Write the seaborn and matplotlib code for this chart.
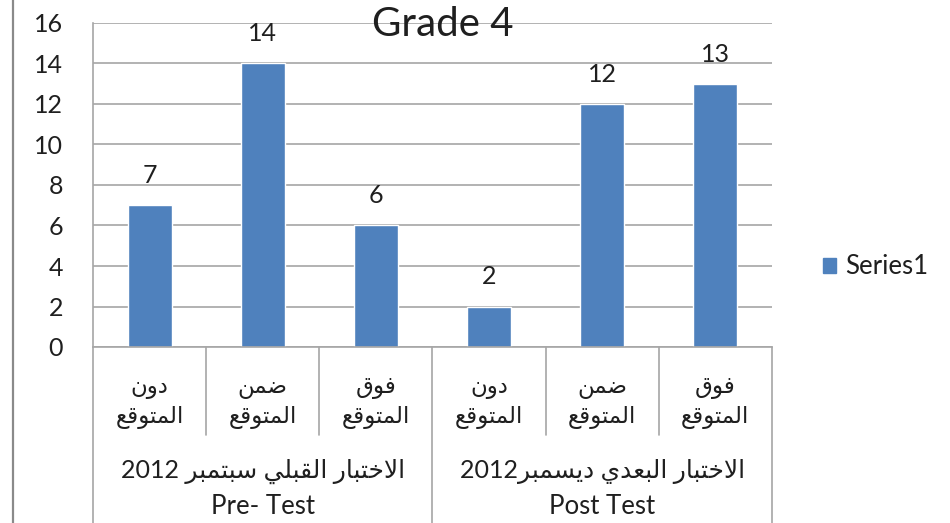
import matplotlib
matplotlib.use("Agg")
import matplotlib.pyplot as plt
import matplotlib.transforms as mtransforms
from matplotlib.lines import Line2D
from matplotlib.patches import Patch
import seaborn as sns
import pandas as pd

# Arabic words written in presentation forms, in visual (left-to-right) order,
# because matplotlib does no Arabic shaping / bidi reordering.
W_BELOW = "\uFEE5\uFEED\uFEA9"                                   # دون
W_WITHIN = "\uFEE6\uFEE4\uFEBF"                                  # ضمن
W_ABOVE = "\uFED5\uFEEE\uFED3"                                   # فوق
W_EXPECTED = "\uFECA\uFED7\uFEEE\uFE98\uFEE4\uFEDF\uFE8D"        # المتوقع
W_TEST = "\uFEAD\uFE8E\uFE92\uFE98\uFEA7\uFEFB\uFE8D"            # الاختبار
W_PRE = "\uFEF2\uFEE0\uFE92\uFED8\uFEDF\uFE8D"                   # القبلي
W_SEPT = "\uFEAE\uFE92\uFEE4\uFE98\uFE92\uFEB3"                  # سبتمبر
W_POST = "\uFEF1\uFEAA\uFECC\uFE92\uFEDF\uFE8D"                  # البعدي
W_DEC = "\uFEAE\uFE92\uFEE4\uFEB4\uFEF3\uFEA9"                   # ديسمبر

# ---- data ----
category_keys = ["pre_below", "pre_within", "pre_above",
                 "post_below", "post_within", "post_above"]
sub_labels = [W_BELOW + "\n" + W_EXPECTED, W_WITHIN + "\n" + W_EXPECTED, W_ABOVE + "\n" + W_EXPECTED,
              W_BELOW + "\n" + W_EXPECTED, W_WITHIN + "\n" + W_EXPECTED, W_ABOVE + "\n" + W_EXPECTED]
group_arabic = ["2012 " + W_SEPT + " " + W_PRE + " " + W_TEST,   # الاختبار القبلي سبتمبر 2012
                "2012" + W_DEC + " " + W_POST + " " + W_TEST]    # الاختبار البعدي ديسمبر2012
group_english = ["Pre- Test", "Post Test"]
values = [7, 14, 6, 2, 12, 13]
series_name = "Series1"
title = "Grade 4"

df = pd.DataFrame({"key": category_keys, "value": values,
                   "series": [series_name] * len(values)})

sns.set_theme(style="white")
plt.rcParams["font.family"] = ["Lato", "DejaVu Sans"]

BAR = "#4F81BD"
GRID = "#A6A6A6"
TXT = "#1f1f1f"

fig = plt.figure(figsize=(9.5, 5.23), dpi=100)
ax = fig.add_axes([93 / 950, 1 - 347 / 523, (772 - 93) / 950, (347 - 23) / 523])

sns.barplot(data=df, x="key", y="value", hue="series", order=category_keys,
            palette=[BAR], saturation=1, width=0.39, ax=ax, legend=False)

ax.set_xlim(-0.5, 5.5)
ax.set_ylim(0, 16)
ax.set_yticks(range(0, 17, 2))
ax.yaxis.grid(True, color=GRID, lw=1.2)
ax.set_axisbelow(True)
for s in ["top", "right"]:
    ax.spines[s].set_visible(False)
for s in ["left", "bottom"]:
    ax.spines[s].set_color(GRID)
    ax.spines[s].set_linewidth(1.2)
ax.set_xlabel("")
ax.set_ylabel("")

ax.tick_params(axis="y", length=7.5, width=1.2, color=GRID, pad=14, labelsize=18, labelcolor=TXT)
ax.set_xticks(range(len(category_keys)))
ax.set_xticklabels(sub_labels, fontsize=16.5, color=TXT, family="DejaVu Sans", linespacing=1.3)
ax.tick_params(axis="x", length=0, pad=21)

# value labels
ax.bar_label(ax.containers[0], padding=13, fontsize=18, color=TXT)

# multi-level category separators
trans = mtransforms.blended_transform_factory(ax.transData, ax.transAxes)
for b in [-0.5, 0.5, 1.5, 2.5, 3.5, 4.5, 5.5]:
    depth = 0.7 if b in (-0.5, 2.5, 5.5) else (435 - 347) / 324
    ax.add_line(Line2D([b, b], [0, -depth], transform=trans, clip_on=False, color=GRID, lw=1.2))

# group labels
for gi, (ar, en) in enumerate(zip(group_arabic, group_english)):
    xc = gi * 3 + 1
    ax.text(xc, -(471 - 347) / 324, ar, transform=trans, ha="center", va="center",
            fontsize=18, color=TXT, family=["Lato", "DejaVu Sans"])
    ax.text(xc, -(507 - 347) / 324, en, transform=trans, ha="center", va="center",
            fontsize=18.5, color=TXT)

# title
fig.text(443 / 950, 1 - 25 / 523, title, ha="center", va="center", fontsize=29, color=TXT)

# legend
fig.legend(handles=[Patch(facecolor=BAR, edgecolor=BAR, label=series_name)],
           loc="center left", bbox_to_anchor=(823 / 950, 1 - 267 / 523),
           frameon=False, fontsize=18.5, handlelength=0.5, handleheight=0.5,
           handletextpad=0.35, borderpad=0, borderaxespad=0, labelcolor=TXT)

# outer chart-area border on the left
fig.add_artist(Line2D([13 / 950, 13 / 950], [0, 1], transform=fig.transFigure, color="#8a8a8a", lw=1.6))

fig.savefig("out.png", dpi=100)
